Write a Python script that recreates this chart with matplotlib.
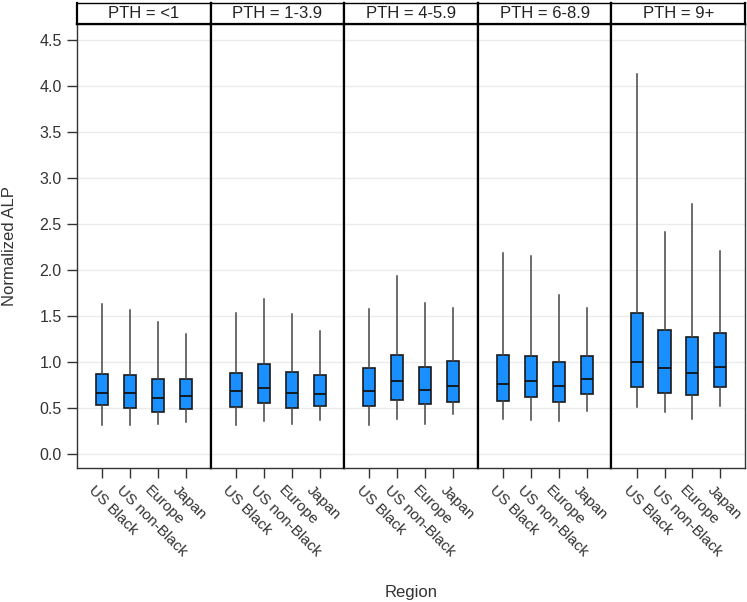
import matplotlib
matplotlib.use("Agg")
import matplotlib.pyplot as plt
import matplotlib.transforms as mtransforms
import numpy as np

plt.rcParams['font.family'] = ['Liberation Sans', 'DejaVu Sans']

panels = ["PTH = <1", "PTH = 1-3.9", "PTH = 4-5.9", "PTH = 6-8.9", "PTH = 9+"]
regions = ["US Black", "US non-Black", "Europe", "Japan"]

# per panel, per region
whislo = [[0.32, 0.31, 0.33, 0.345],
          [0.32, 0.36, 0.33, 0.37],
          [0.32, 0.38, 0.33, 0.435],
          [0.38, 0.37, 0.36, 0.47],
          [0.51, 0.46, 0.38, 0.52]]
q1 = [[0.536, 0.503, 0.46, 0.486],
      [0.514, 0.55, 0.503, 0.525],
      [0.525, 0.587, 0.54, 0.565],
      [0.576, 0.616, 0.565, 0.655],
      [0.73, 0.667, 0.64, 0.73]]
med = [[0.667, 0.667, 0.605, 0.627],
       [0.68, 0.717, 0.667, 0.652],
       [0.69, 0.79, 0.70, 0.74],
       [0.757, 0.79, 0.74, 0.82],
       [1.0, 0.93, 0.88, 0.946]]
q3 = [[0.866, 0.855, 0.82, 0.81],
      [0.88, 0.98, 0.89, 0.855],
      [0.93, 1.08, 0.946, 1.01],
      [1.08, 1.07, 0.997, 1.06],
      [1.536, 1.35, 1.27, 1.32]]
whishi = [[1.63, 1.57, 1.43, 1.30],
          [1.53, 1.68, 1.52, 1.34],
          [1.58, 1.93, 1.64, 1.59],
          [2.19, 2.15, 1.73, 1.59],
          [4.13, 2.41, 2.72, 2.21]]

fig = plt.figure(figsize=(7.47, 6.02), dpi=100)
left, right = 77 / 747, 745 / 747
bottom, top = 1 - 468 / 602, 1 - 24 / 602
strip_top = 1 - 2.7 / 602
pw = (right - left) / 5
# move rotated region labels a bit left and below the ticks
shift = mtransforms.ScaledTranslation(-6 / 100, -15 / 100, fig.dpi_scale_trans)

for i, name in enumerate(panels):
    ax = fig.add_axes([left + i * pw, bottom, pw, top - bottom])
    stats = []
    for j, r in enumerate(regions):
        stats.append(dict(label=r, whislo=whislo[i][j], q1=q1[i][j], med=med[i][j],
                          q3=q3[i][j], whishi=whishi[i][j]))
    pos = np.arange(1, 5)
    ax.bxp(stats, positions=pos, widths=0.43, patch_artist=True,
           showfliers=False, showcaps=False,
           boxprops=dict(facecolor='#1a8fff', edgecolor='#1a1a1a', linewidth=1.2),
           medianprops=dict(color='#111111', linewidth=1.3),
           whiskerprops=dict(color='#444444', linewidth=1.1))
    ax.set_xlim(0.1, 4.88)
    ax.set_ylim(-0.152, 4.674)
    ax.set_yticks(np.arange(0, 4.51, 0.5))
    ax.yaxis.grid(True, color='#ebebeb', linewidth=1.0)
    ax.set_axisbelow(True)
    ax.set_xticks(pos)
    ax.tick_params(axis='x', length=7, width=1, color='#333333', labelbottom=False)
    for p, r in zip(pos, regions):
        ax.text(p, 0, r, transform=ax.get_xaxis_transform() + shift,
                rotation=-45, ha='left', va='top', rotation_mode='anchor',
                fontsize=11, color='#333333')
    for s in ['left', 'right']:
        ax.spines[s].set_linewidth(1.6)
        ax.spines[s].set_color('black')
    ax.spines['top'].set_linewidth(1.6)
    ax.spines['bottom'].set_linewidth(1.0)
    ax.spines['bottom'].set_color('#333333')
    if i == 0:
        ax.set_yticklabels([f"{v:.1f}" for v in np.arange(0, 4.51, 0.5)],
                           fontsize=11.5, color='#333333')
        ax.tick_params(axis='y', length=7, width=1, color='#333333', pad=4)
        ax.spines['left'].set_linewidth(1.0)
        ax.spines['left'].set_color('#333333')
    else:
        ax.tick_params(axis='y', length=0, labelleft=False)
    if i == 4:
        ax.spines['right'].set_linewidth(1.0)
        ax.spines['right'].set_color('#333333')

    sx = fig.add_axes([left + i * pw, top, pw, strip_top - top])
    sx.set_xticks([])
    sx.set_yticks([])
    for s in sx.spines.values():
        s.set_linewidth(1.6)
        s.set_color('black')
    sx.spines['top'].set_linewidth(1.0)
    sx.text(0.5, 0.5, name, ha='center', va='center', fontsize=12,
            color='#222222', transform=sx.transAxes)

fig.text(10 / 747, (bottom + top) / 2, "Normalized ALP", rotation=90,
         ha='center', va='center', fontsize=12, color='#333333')
fig.text(411 / 747, 1 - 592 / 602, "Region", ha='center', va='center',
         fontsize=12, color='#333333')

fig.savefig("out.png", dpi=100)
